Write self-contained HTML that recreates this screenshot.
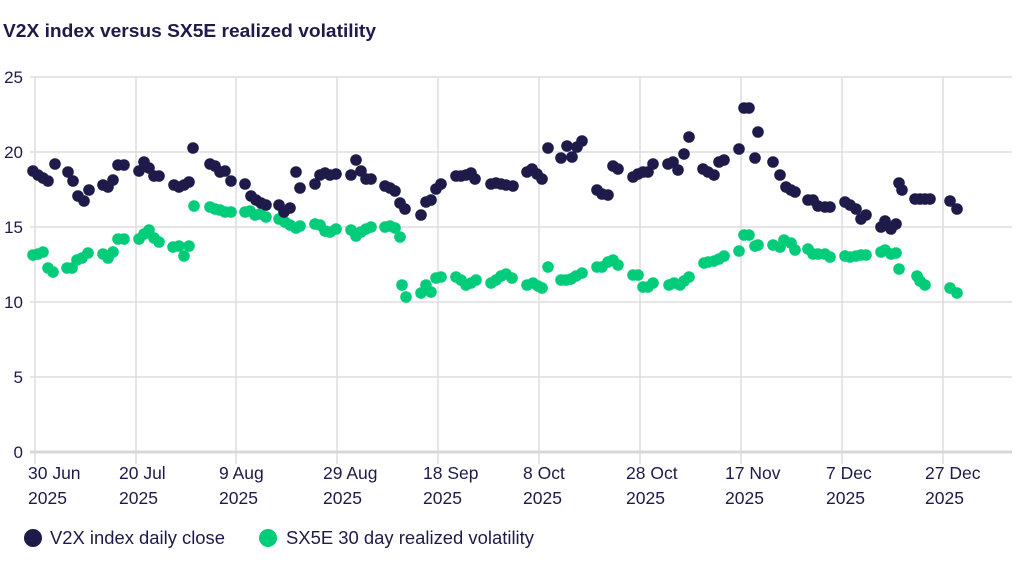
<!DOCTYPE html>
<html><head><meta charset="utf-8"><style>
body{margin:0;background:#fff;}
text{font-family:"Liberation Sans","DejaVu Sans",sans-serif;fill:#1e1a4a;}
</style></head><body>
<svg id="s" width="1024" height="571" xmlns="http://www.w3.org/2000/svg">
<text x="3" y="37" font-size="18.5" font-weight="bold" textLength="373" lengthAdjust="spacingAndGlyphs">V2X index versus SX5E realized volatility</text>
<g stroke="#dddddd" stroke-width="1.5">
<line x1="30" y1="77" x2="1012" y2="77"/><line x1="30" y1="152" x2="1012" y2="152"/><line x1="30" y1="227" x2="1012" y2="227"/><line x1="30" y1="302" x2="1012" y2="302"/><line x1="30" y1="377" x2="1012" y2="377"/>
<line x1="35" y1="77" x2="35" y2="464"/><line x1="136" y1="77" x2="136" y2="464"/><line x1="236" y1="77" x2="236" y2="464"/><line x1="337" y1="77" x2="337" y2="464"/><line x1="438" y1="77" x2="438" y2="464"/><line x1="539" y1="77" x2="539" y2="464"/><line x1="640" y1="77" x2="640" y2="464"/><line x1="741" y1="77" x2="741" y2="464"/><line x1="842" y1="77" x2="842" y2="464"/><line x1="943" y1="77" x2="943" y2="464"/>
</g>
<line x1="30" y1="452" x2="1012" y2="452" stroke="#d8d8d8" stroke-width="3"/>
<g font-size="17" text-anchor="end">
<text x="23" y="83">25</text><text x="23" y="158">20</text><text x="23" y="233">15</text><text x="23" y="308">10</text><text x="23" y="383">5</text><text x="23" y="458">0</text>
</g>
<g font-size="17.5">
<text x="28" y="479">30 Jun</text><text x="28" y="504">2025</text>
<text x="119" y="479">20 Jul</text><text x="119" y="504">2025</text>
<text x="219" y="479">9 Aug</text><text x="219" y="504">2025</text>
<text x="323" y="479">29 Aug</text><text x="323" y="504">2025</text>
<text x="423" y="479">18 Sep</text><text x="423" y="504">2025</text>
<text x="523" y="479">8 Oct</text><text x="523" y="504">2025</text>
<text x="626" y="479">28 Oct</text><text x="626" y="504">2025</text>
<text x="725" y="479">17 Nov</text><text x="725" y="504">2025</text>
<text x="826" y="479">7 Dec</text><text x="826" y="504">2025</text>
<text x="925" y="479">27 Dec</text><text x="925" y="504">2025</text>
</g>
<circle cx="33" cy="538" r="9" fill="#1e1a4a"/>
<text x="50" y="544" font-size="18" textLength="175" lengthAdjust="spacingAndGlyphs">V2X index daily close</text>
<circle cx="268" cy="538" r="9" fill="#00cc7a"/>
<text x="286" y="544" font-size="18" textLength="248" lengthAdjust="spacingAndGlyphs">SX5E 30 day realized volatility</text>
<g id="g"></g><g id="d"></g>
</svg>
<script>
var D=[33,171,38,175,43,178,48,181,55,164,68,172,73,181,78,196,84,201,89,190,103,185,108,187,113,180,118,165,124,165,139,171,144,162,149,168,154,176,159,176,174,185,179,187,184,185,189,182,193,148,210,164,215,166,220,172,225,171,231,181,245,184,251,196,256,200,261,203,266,205,279,205,284,212,290,208,296,172,300,188,315,184,320,175,325,173,330,175,336,174,351,175,356,160,361,171,366,179,371,179,385,186,390,188,395,191,400,203,405,209,421,215,426,202,431,200,436,189,441,184,456,176,461,176,466,175,471,173,475,179,491,184,496,183,501,184,506,185,513,186,527,172,532,169,537,174,542,179,548,148,561,158,567,146,572,157,577,147,582,141,597,190,602,194,608,195,613,166,618,169,633,177,638,174,643,172,648,172,653,164,668,164,673,162,678,170,684,154,689,137,703,169,708,172,714,175,719,162,724,160,739,149,744,108,749,108,755,158,758,132,773,162,780,175,786,187,791,190,795,192,808,200,813,200,818,206,825,207,830,207,845,202,850,205,856,209,861,219,866,215,881,227,885,221,891,229,896,224,899,183,902,190,915,199,920,199,925,199,930,199,950,201,957,209];
var G=[33,255,38,254,43,252,48,268,53,272,67,268,72,268,77,260,82,258,88,253,103,254,108,258,113,252,118,239,124,239,139,239,144,234,149,230,154,238,159,242,173,247,179,246,184,256,189,246,194,206,210,207,215,209,220,210,225,212,231,212,245,212,250,211,255,215,260,214,266,217,279,219,285,222,290,225,296,228,300,226,315,224,320,225,325,231,330,232,336,229,351,230,356,236,361,232,366,229,371,227,385,227,390,226,395,228,400,237,402,285,406,297,421,293,426,285,431,292,436,278,441,277,456,277,461,280,466,285,471,283,476,280,491,283,496,280,501,276,506,274,512,278,527,285,533,283,538,286,542,288,548,267,561,280,566,280,571,279,576,276,582,273,597,267,602,267,608,262,613,260,618,265,633,275,638,275,643,287,648,287,653,283,669,285,674,283,680,285,684,281,689,277,704,263,708,262,714,261,719,259,724,256,739,251,744,235,749,235,755,246,758,245,773,245,780,247,784,240,791,243,795,250,808,249,813,254,818,254,825,254,830,257,845,256,850,257,856,256,861,255,866,255,881,252,885,250,891,254,896,253,899,269,917,276,920,281,925,285,950,288,957,293];
function put(id,a,c){var g=document.getElementById(id),h='';for(var i=0;i<a.length;i+=2)h+='<circle cx="'+a[i]+'" cy="'+a[i+1]+'" r="5.8" fill="'+c+'"/>';g.innerHTML=h;}
put('g',G,'#00cc7a');put('d',D,'#1e1a4a');
</script>
</body></html>
